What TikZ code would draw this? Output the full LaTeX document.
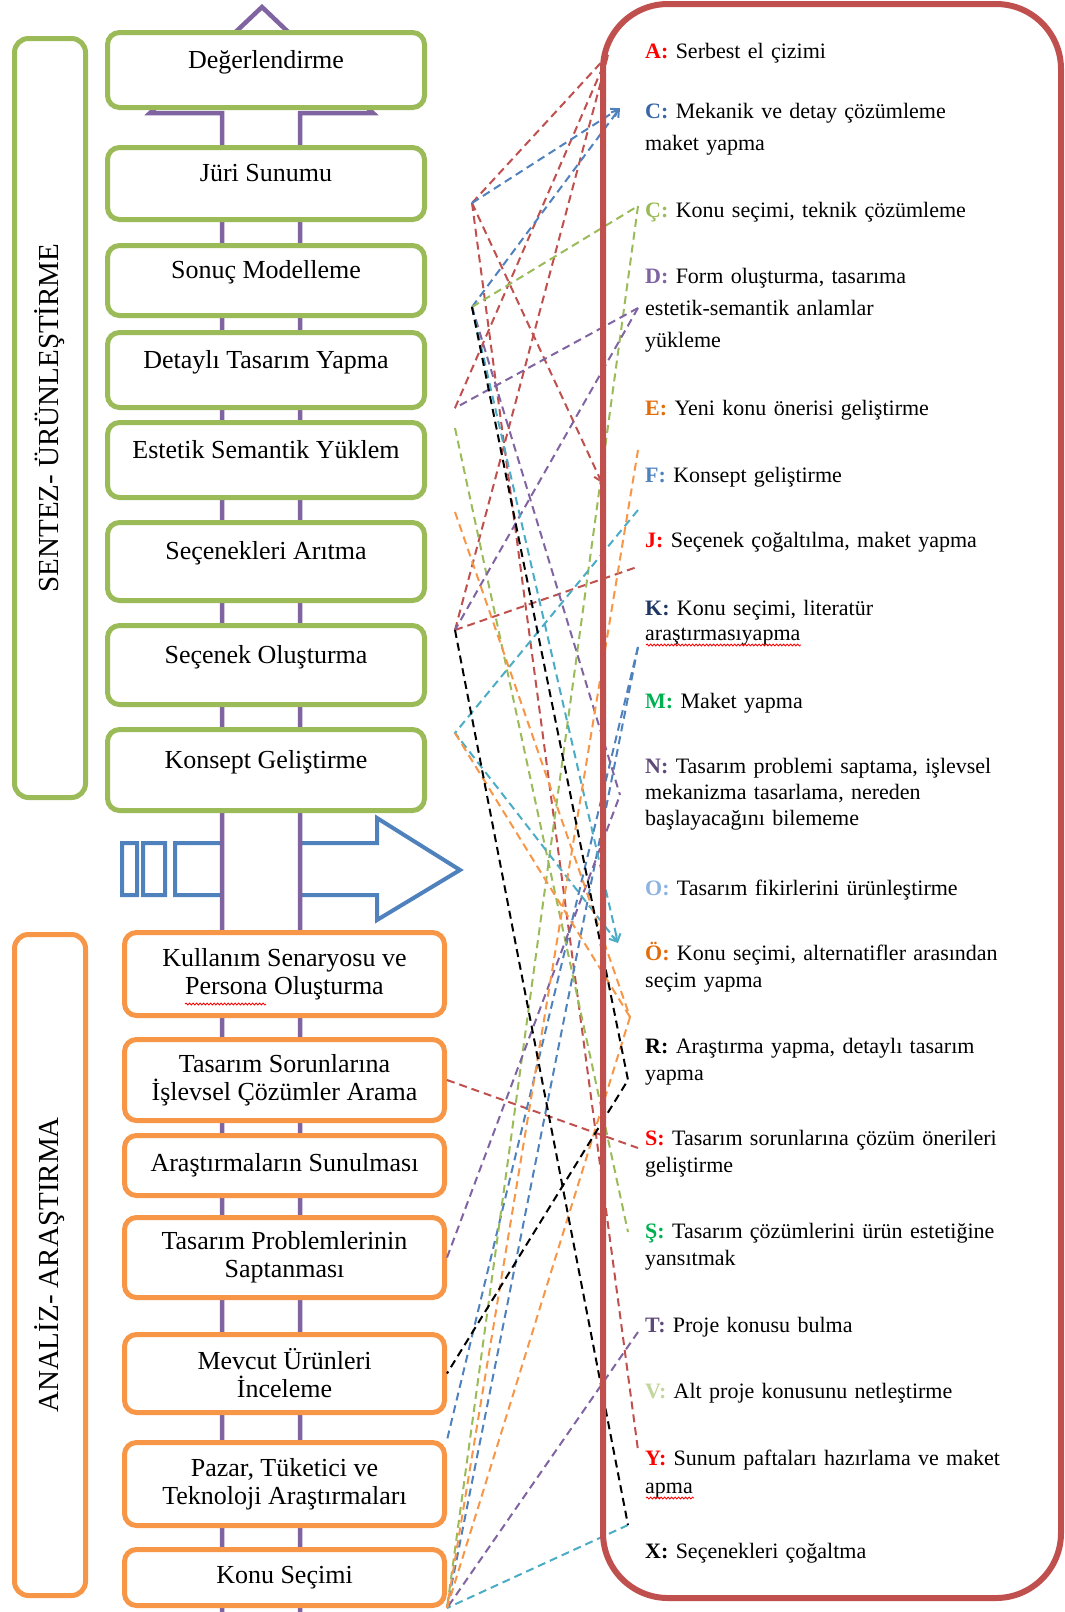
\documentclass[tikz,border=0pt]{standalone}
\usepackage{fontspec}
\setmainfont{Liberation Serif}
\usetikzlibrary{arrows.meta,decorations.pathmorphing}
\definecolor{grn}{HTML}{9BBB59}
\definecolor{org}{HTML}{F79646}
\definecolor{pur}{HTML}{8064A2}
\definecolor{blu}{HTML}{4F81BD}
\definecolor{rdb}{HTML}{C0504D}
\definecolor{cyn}{HTML}{4BACC6}
\definecolor{kred}{HTML}{FF0000}
\definecolor{kblue}{HTML}{3A66A8}
\definecolor{knavy}{HTML}{1F3864}
\definecolor{kgreen}{HTML}{00B050}
\definecolor{kolive}{HTML}{9BBB59}
\definecolor{kpur}{HTML}{8064A2}
\definecolor{kdpur}{HTML}{5F497A}
\definecolor{korange}{HTML}{E36C09}
\definecolor{klblue}{HTML}{8DB3E2}
\definecolor{kvgreen}{HTML}{C3D69B}
\newcommand{\boxfont}{\fontsize{26}{28}\selectfont}
\newcommand{\sidefont}{\fontsize{29}{32}\selectfont}
\newcommand{\keyfont}{\fontsize{22}{27}\selectfont}
\newcommand{\keylet}[2]{\textcolor{#1}{\textbf{#2:}}}
\begin{document}
\begin{tikzpicture}[x=1pt, y=-1pt, >={Straight Barb[length=7pt,width=9pt]},
    boxbase/.style={draw, fill=white, line width=5pt, rounded corners=12pt, align=center, font=\boxfont},
    gbox/.style={boxbase, draw=grn, minimum width=317pt, text height=16pt, text depth=20pt},
    obox/.style={boxbase, draw=org, minimum width=320pt},
    sidebox/.style={draw, line width=5pt, rounded corners=14pt, rotate=90, minimum height=71pt, font=\sidefont},
    keytext/.style={anchor=base west, text width=410pt, align=left, inner sep=0pt, font=\keyfont},
    dashlink/.style={dash pattern=on 8pt off 5pt, line width=2pt},
    spell/.style={kred, line width=0.8pt, decorate, decoration={snake, amplitude=1pt, segment length=3.5pt}}]
\useasboundingbox (0,0) rectangle (1065,1612);

% blue striped arrow, then the purple block arrow over it
\draw[blu, line width=4pt, fill=white] (122,843) rectangle (137,895) (143,843) rectangle (165,895)
    (175,843) -- (377,843) -- (377,818) -- (460,870) -- (377,920) -- (377,895) -- (175,895) -- cycle;
\draw[pur, line width=4.5pt, fill=white] (222,1625) -- (222,113) -- (150,113) -- (262,7)
    -- (373,113) -- (300,113) -- (300,1625);

% phase frames
\node[sidebox, draw=grn, minimum width=759pt] (sentez) at (50,418) {SENTEZ- ÜRÜNLEŞTİRME};
\node[sidebox, draw=org, minimum width=661pt] (analiz) at (50,1265) {ANALİZ- ARAŞTIRMA};

% synthesis steps
\node[gbox, minimum height=75pt] (deg) at (266,70) {Değerlendirme};
\node[gbox, minimum height=72pt] (juri) at (266,183.5) {Jüri Sunumu};
\node[gbox, minimum height=70pt] (sonuc) at (266,280.5) {Sonuç Modelleme};
\node[gbox, minimum height=75pt] (detay) at (266,370) {Detaylı Tasarım Yapma};
\node[gbox, minimum height=75pt] (estetik) at (266,460) {Estetik Semantik Yüklem};
\node[gbox, minimum height=78pt] (arit) at (266,561.5) {Seçenekleri Arıtma};
\node[gbox, minimum height=79pt] (olus) at (266,665) {Seçenek Oluşturma};
\node[gbox, minimum height=81pt] (konsept) at (266,770) {Konsept Geliştirme};

% analysis steps
\node[obox, minimum height=83pt] (kul) at (284.5,974) {Kullanım Senaryosu ve\\Persona Oluşturma};
\node[obox, minimum height=81pt] (sorun) at (284.5,1080) {Tasarım Sorunlarına\\İşlevsel Çözümler Arama};
\node[obox, minimum height=60pt] (sunum) at (284.5,1165.5) {Araştırmaların Sunulması};
\node[obox, minimum height=80pt] (prob) at (284.5,1257.5) {Tasarım Problemlerinin\\Saptanması};
\node[obox, minimum height=78pt] (mevcut) at (284.5,1373.5) {Mevcut Ürünleri\\İnceleme};
\node[obox, minimum height=83pt] (pazar) at (284.5,1484) {Pazar, Tüketici ve\\Teknoloji Araştırmaları};
\node[obox, minimum height=56pt] (konu) at (284.5,1577.5) {Konu Seçimi};
\draw[spell] (185,1004) -- (266,1004);

% key list
\node[keytext] (kA) at (645,58) {\keylet{kred}{A} Serbest el çizimi};
\node[keytext] (kC) at (645,118) {\keylet{kblue}{C} Mekanik ve detay çözümleme\\[5pt]maket yapma};
\node[keytext] (kCc) at (645,217) {\keylet{kolive}{Ç} Konu seçimi, teknik çözümleme};
\node[keytext] (kD) at (645,283) {\keylet{kpur}{D} Form oluşturma, tasarıma\\[5pt]estetik-semantik anlamlar\\[5pt]yükleme};
\node[keytext] (kE) at (645,415) {\keylet{korange}{E} Yeni konu önerisi geliştirme};
\node[keytext] (kF) at (645,482) {\keylet{blu}{F} Konsept geliştirme};
\node[keytext] (kJ) at (645,547) {\keylet{kred}{J} Seçenek çoğaltılma, maket yapma};
\node[keytext] (kK) at (645,615) {\keylet{knavy}{K} Konu seçimi, literatür\\[-2pt]araştırmasıyapma};
\node[keytext] (kM) at (645,708) {\keylet{kgreen}{M} Maket yapma};
\node[keytext] (kN) at (645,773) {\keylet{kdpur}{N} Tasarım problemi saptama, işlevsel\\[-1pt]mekanizma tasarlama, nereden\\[-1pt]başlayacağını bilememe};
\node[keytext] (kO) at (645,895) {\keylet{klblue}{O} Tasarım fikirlerini ürünleştirme};
\node[keytext] (kOo) at (645,960) {\keylet{korange}{Ö} Konu seçimi, alternatifler arasından\\seçim yapma};
\node[keytext] (kR) at (645,1053) {\keylet{black}{R} Araştırma yapma, detaylı tasarım\\yapma};
\node[keytext] (kS) at (645,1145) {\keylet{kred}{S} Tasarım sorunlarına çözüm önerileri\\geliştirme};
\node[keytext] (kSs) at (645,1238) {\keylet{kgreen}{Ş} Tasarım çözümlerini ürün estetiğine\\yansıtmak};
\node[keytext] (kT) at (645,1332) {\keylet{kdpur}{T} Proje konusu bulma};
\node[keytext] (kV) at (645,1398) {\keylet{kvgreen}{V} Alt proje konusunu netleştirme};
\node[keytext] (kY) at (645,1465) {\keylet{kred}{Y} Sunum paftaları hazırlama ve maket\\[1pt]apma};
\node[keytext] (kX) at (645,1558) {\keylet{black}{X} Seçenekleri çoğaltma};
\draw[spell] (646,645) -- (801,645);
\draw[spell] (646,1498) -- (694,1498);

% bends of the dashed links
\coordinate (h1) at (472,203);
\coordinate (h2) at (472,307);
\coordinate (h3) at (455,408);
\coordinate (h7) at (455,428);
\coordinate (h6) at (455,512);
\coordinate (h4) at (455,630);
\coordinate (h5) at (455,733);
% ends at the key list
\coordinate (eA) at (608,55);
\coordinate (eC) at (620,108);
\coordinate (eCc) at (638,206);
\coordinate (eD) at (638,308);
\coordinate (eE) at (638,450);
\coordinate (eF) at (638,510);
\coordinate (eJa) at (602,483);
\coordinate (eJ) at (637,567);
\coordinate (eK) at (638,647);
\coordinate (eN) at (620,795);
\coordinate (eO) at (618,943);
\coordinate (eOo) at (630,1017);
\coordinate (eR) at (628,1080);
\coordinate (eS) at (638,1148);
\coordinate (eSs) at (628,1232);
\coordinate (eT) at (638,1332);
\coordinate (eY) at (638,1450);
\coordinate (eX) at (628,1525);

\foreach \a/\b in {h1/eA, h3/eA, h4/eA, h4/eJ, h1/eY, sorun.east/eS}
    \draw[dashlink, rdb] (\a) -- (\b);
\draw[dashlink, rdb, ->] (h1) -- (eJa);
\draw[dashlink, blu, ->] (h1) -- (eC);
\draw[dashlink, blu, ->] (h2) -- (eC);
\foreach \a/\b in {eK/konu.south east, eK/pazar.north east}
    \draw[dashlink, blu] (\a) -- (\b);
\foreach \a/\b in {h2/eCc, eCc/konu.south east, h7/eSs}
    \draw[dashlink, grn] (\a) -- (\b);
\foreach \a/\b in {eD/h3, eD/h4, h2/eN, prob.east/eN, eT/konu.south east}
    \draw[dashlink, pur] (\a) -- (\b);
\draw[dashlink, cyn, ->] (h2) -- (eO);
\draw[dashlink, cyn, ->] (eF) -- (h5) -- (eO);
\draw[dashlink, cyn] (eX) -- (konu.south east);
\foreach \a/\b in {eE/konu.south east, h6/eOo, h5/eOo, eOo/konu.south east}
    \draw[dashlink, org] (\a) -- (\b);
\draw[dashlink, black] (h2) -- (eR) -- (mevcut.east);
\draw[dashlink, black] (h4) -- (eX);

% frame of the key list
\draw[rdb, line width=6pt, rounded corners=65pt] (603,4) rectangle (1061,1598);
\end{tikzpicture}
\end{document}
